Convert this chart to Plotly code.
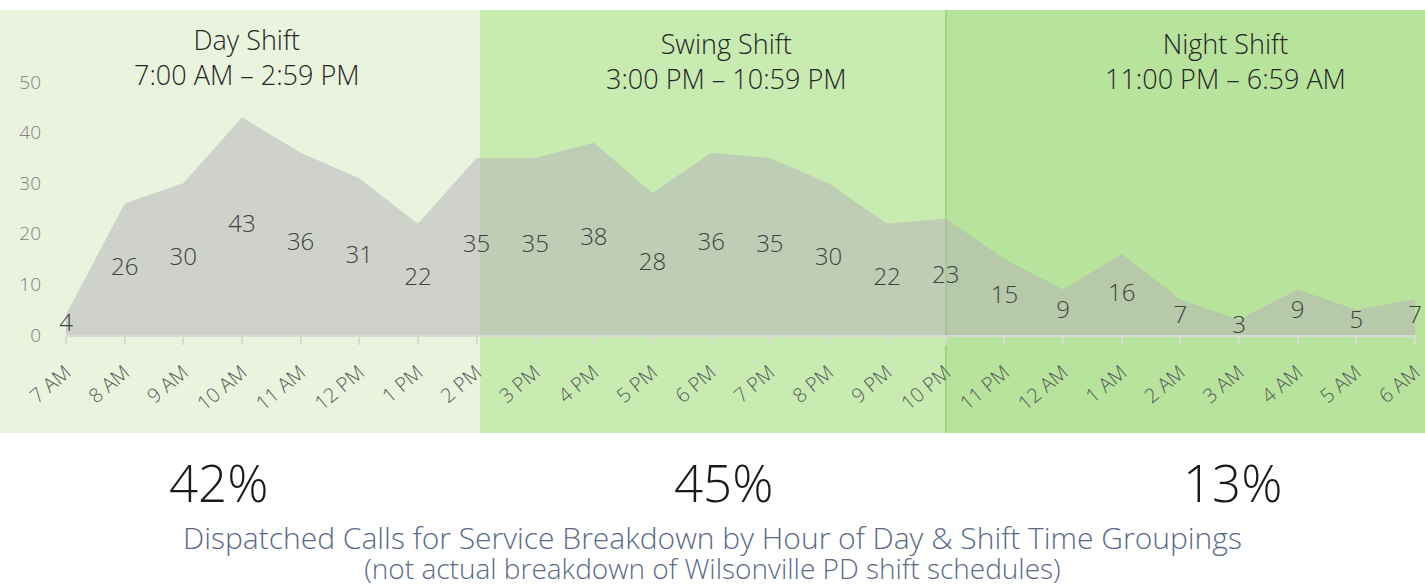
import plotly.graph_objects as go

hours = ["7 AM", "8 AM", "9 AM", "10 AM", "11 AM", "12 PM", "1 PM", "2 PM",
         "3 PM", "4 PM", "5 PM", "6 PM", "7 PM", "8 PM", "9 PM", "10 PM",
         "11 PM", "12 AM", "1 AM", "2 AM", "3 AM", "4 AM", "5 AM", "6 AM"]
calls = [4, 26, 30, 43, 36, 31, 22, 35, 35, 38, 28, 36, 35, 30, 22, 23,
         15, 9, 16, 7, 3, 9, 5, 7]
shift_names = ["Day Shift", "Swing Shift", "Night Shift"]
shift_times = ["7:00 AM – 2:59 PM", "3:00 PM – 10:59 PM", "11:00 PM – 6:59 AM"]
shift_pcts = ["42%", "45%", "13%"]
title_line1 = "Dispatched Calls for Service Breakdown by Hour of Day & Shift Time Groupings"
title_line2 = "(not actual breakdown of Wilsonville PD shift schedules)"

W, H = 1425, 586
L, R, T, B = 66, 10, 10, 251
pw = W - L - R
ph = H - T - B

def px_x(px):
    return (px - L) / pw

def px_y(py):
    return (H - B - py) / ph

FONT = "Open Sans"

fig = go.Figure()
fig.add_trace(go.Scatter(
    x=list(range(len(hours))), y=calls, mode="lines", fill="tozeroy",
    line=dict(width=0, color="rgba(0,0,0,0)"),
    fillcolor="rgba(180,178,184,0.5)", hoverinfo="skip", showlegend=False))
fig.add_trace(go.Scatter(
    x=list(range(len(hours))), y=[v / 2 for v in calls], mode="text",
    text=[str(v) for v in calls], textposition="middle center",
    textfont=dict(family=FONT, size=24, color="#404040", weight=300),
    cliponaxis=False, hoverinfo="skip", showlegend=False))

panels = [(0, 480, "#e9f3de"), (480, 946, "#c8ebb2"), (946, W, "#b8e39d")]
shapes = []
for x0, x1, c in panels:
    shapes.append(dict(type="rect", xref="paper", yref="paper",
                       x0=px_x(x0), x1=px_x(x1), y0=px_y(433), y1=px_y(10),
                       fillcolor=c, line=dict(width=0), layer="below"))
shapes.append(dict(type="line", xref="paper", yref="paper",
                   x0=px_x(946), x1=px_x(946), y0=px_y(433), y1=px_y(10),
                   line=dict(color="#93d374", width=1.5), layer="below"))

annotations = []
title_cx = [247, 726, 1225]
title_cy = [57, 61, 61]
for name, tm, cx, cy in zip(shift_names, shift_times, title_cx, title_cy):
    annotations.append(dict(
        xref="paper", yref="paper", x=px_x(cx), y=px_y(cy),
        text=name + "<br>" + tm, showarrow=False, xanchor="center", yanchor="middle",
        font=dict(family=FONT, size=27, color="#262626", weight=300)))
pct_cx = [218, 723, 1232]
for p, cx in zip(shift_pcts, pct_cx):
    annotations.append(dict(
        xref="paper", yref="paper", x=px_x(cx), y=px_y(482),
        text=p, showarrow=False, xanchor="center", yanchor="middle",
        font=dict(family=FONT, size=51, color="#1a1a1a", weight=300)))
annotations.append(dict(
    xref="paper", yref="paper", x=px_x(712), y=px_y(552),
    text=("<span style='font-size:30px'>" + title_line1 + "</span><br>"
          "<span style='font-size:28px'>" + title_line2 + "</span>"),
    showarrow=False, xanchor="center", yanchor="middle",
    font=dict(family=FONT, size=23, color="#5b6a88", weight=300)))

ytop = 50 * ph / (335 - 82)

fig.update_layout(
    width=W, height=H, margin=dict(l=L, r=R, t=T, b=B, autoexpand=False),
    paper_bgcolor="white", plot_bgcolor="rgba(0,0,0,0)",
    shapes=shapes, annotations=annotations,
    xaxis=dict(range=[0, len(hours) - 1], tickmode="array",
               tickvals=list(range(len(hours))), ticktext=hours,
               tickangle=-40, showgrid=False, zeroline=False,
               showline=True, linecolor="#d9d9d9", linewidth=2,
               ticks="outside", ticklen=8, tickcolor="#d9d9d9", tickwidth=2,
               ticklabelstandoff=8, ticklabeloverflow="allow", automargin=False,
               tickfont=dict(family=FONT, size=20, color="#595959", weight=300)),
    yaxis=dict(range=[0, ytop], tickmode="array", tickvals=[0, 10, 20, 30, 40, 50],
               showgrid=False, zeroline=False, showline=False, ticks="",
               ticklabelstandoff=24, automargin=False,
               tickfont=dict(family=FONT, size=19, color="#808080", weight=300)),
)

fig.write_html(
    "out.html",
    config={"displayModeBar": False},
    post_script=("document.documentElement.style.margin='0';"
                 "document.documentElement.style.overflow='hidden';"
                 "document.body.style.margin='0';"
                 "document.body.style.overflow='hidden';"))
